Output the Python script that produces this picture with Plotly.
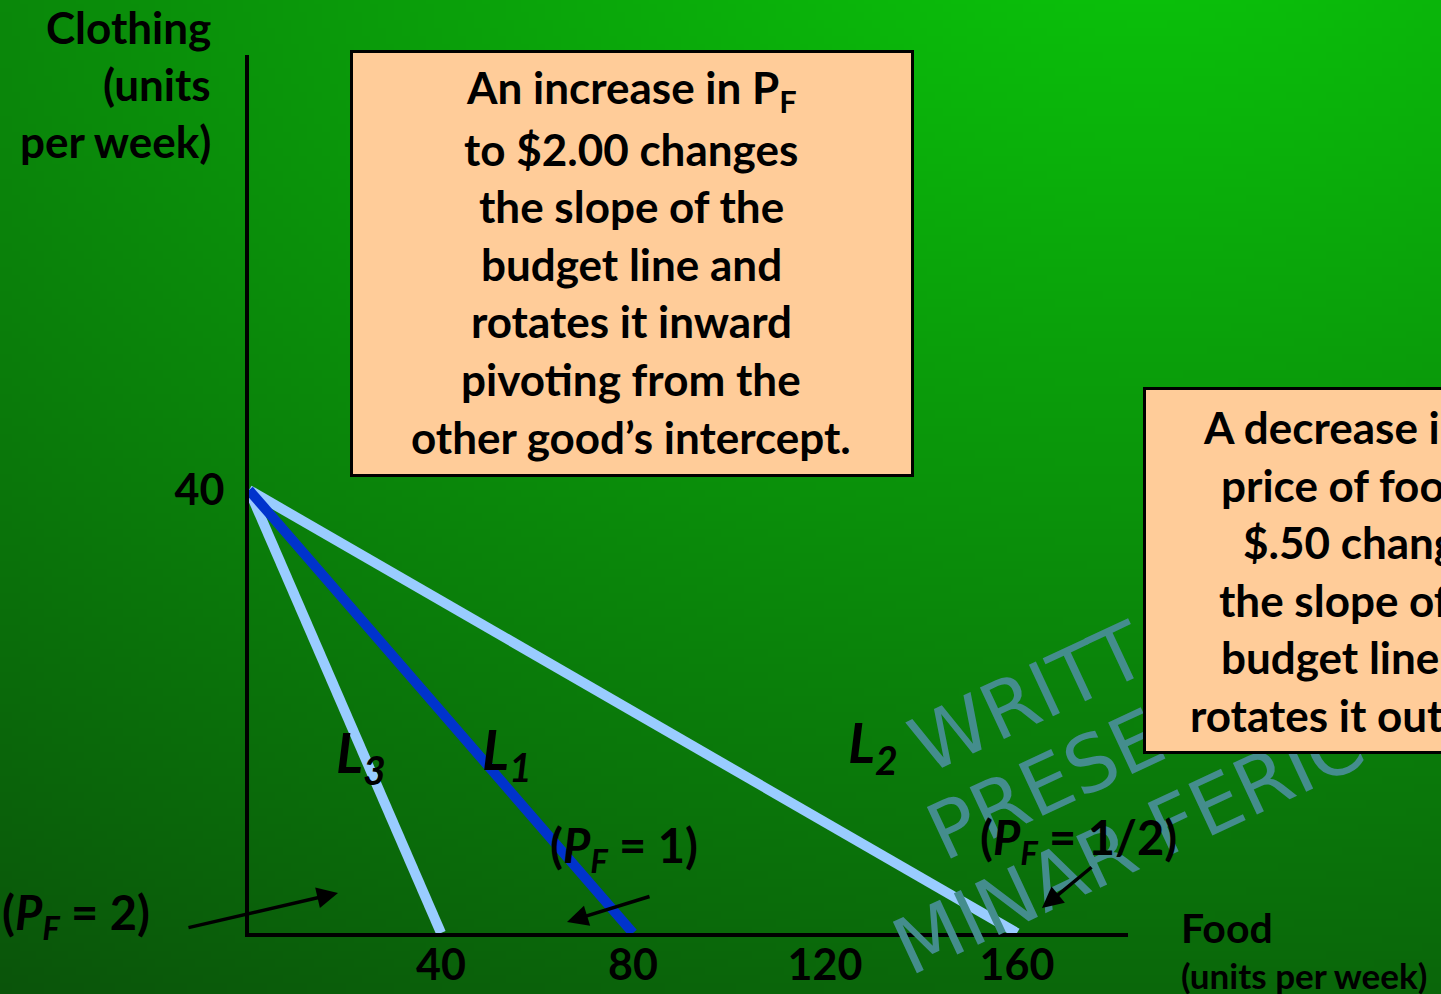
import base64, struct, zlib, math
import plotly.graph_objects as go

# ---------------- data ----------------
clothing_intercept = 40
food_intercepts = [40, 80, 160]          # L3, L1, L2
line_names = ["3", "1", "2"]
line_colors = ["#99CCFF", "#0033CC", "#99CCFF"]
price_labels = ["2", "1", "1/2"]
x_tick_vals = [40, 80, 120, 160]
y_tick_vals = [40]

box1_lines = ["An increase in P<sub>F</sub>", "to $2.00 changes", "the slope of the",
              "budget line and", "rotates it inward", "pivoting from the",
              "other good\u2019s intercept."]
box2_lines = ["A decrease in the", "price of food to", "$.50 changes",
              "the slope of the", "budget line and", "rotates it outward."]
watermark_lines = ["WRITT", "PRESE", "MINAR FERIC"]

# ---------------- geometry helpers (layout pixels -> paper) ----------------
W, H = 1441, 994
L, R, T, B = 249, 1128, 55, 933
PW, PH = R - L, B - T
def px(x): return (x - L) / PW
def py(y): return (B - y) / PH

FONT = "Lato"

# ---------------- background gradient image ----------------
def gradient_png(w, h):
    rows = []
    for j in range(h):
        Y = j * H / (h - 1)
        row = bytearray([0])
        for i in range(w):
            X = i * W / (w - 1)
            d = math.hypot((X - 1150) / 1.6, Y + 100)
            g = max(74, min(200, 200 - 0.088 * d))
            row += bytes([10, int(g), 10])
        rows.append(bytes(row))
    raw = b"".join(rows)
    def chunk(tag, data):
        return struct.pack(">I", len(data)) + tag + data + struct.pack(">I", zlib.crc32(tag + data) & 0xffffffff)
    png = b"\x89PNG\r\n\x1a\n" + chunk(b"IHDR", struct.pack(">IIBBBBB", w, h, 8, 2, 0, 0, 0)) \
          + chunk(b"IDAT", zlib.compress(raw, 9)) + chunk(b"IEND", b"")
    return "data:image/png;base64," + base64.b64encode(png).decode()

fig = go.Figure()

# budget lines
order = [2, 0, 1]
for k in order:
    fig.add_trace(go.Scatter(
        x=[0, food_intercepts[k]], y=[clothing_intercept, 0], mode="lines",
        line=dict(color=line_colors[k], width=10), hoverinfo="skip", showlegend=False))

ann = []
def text(t, x, y, font, xa="center", ya="middle", angle=0):
    ann.append(dict(text=t, x=px(x), y=py(y), xref="paper", yref="paper", showarrow=False,
                    xanchor=xa, yanchor=ya, textangle=angle, font=font))

# watermark
wm_font = dict(family="DejaVu Sans", size=78, color="#448d8d")
wm_pos = [(1028, 698), (1045, 785), (1128, 845)]
for t, (x, y) in zip(watermark_lines, wm_pos):
    text(t, x, y, wm_font, angle=-25)

# box 2 (drawn after watermark so it covers it)
ann.append(dict(text="", x=px(1143), y=py(387), xref="paper", yref="paper", xanchor="left",
                yanchor="top", showarrow=False, width=480, height=361, bgcolor="#FFCC99",
                bordercolor="black", borderwidth=3, borderpad=0))
# box 1
ann.append(dict(text="", x=px(350), y=py(50), xref="paper", yref="paper", xanchor="left",
                yanchor="top", showarrow=False, width=558, height=421, bgcolor="#FFCC99",
                bordercolor="black", borderwidth=3, borderpad=0))

box_font = dict(family=FONT, size=44, color="black", weight="bold")
for i, t in enumerate(box1_lines):
    text(t, 631, 91 + i * 57.6, box_font)
for i, t in enumerate(box2_lines):
    text(t, 1371, 427 + i * 57.6, box_font)

# axis titles
for i, t in enumerate(["Clothing", "(units", "per week)"]):
    text(t, 213, 27 + i * 57, box_font, xa="right")
text("Food", 1179, 927, dict(family=FONT, size=41, color="black", weight="bold"), xa="left")
text("(units per week)", 1179, 975, dict(family=FONT, size=35, color="black", weight="bold"), xa="left")

# line labels
lab_font = dict(family=FONT, size=56, color="black", weight="bold")
lab_pos = [(361, 755), (507, 752), (873, 745)]
for n, (x, y) in zip(line_names, lab_pos):
    text(f"<i>L<sub>{n}</sub></i>", x, y, lab_font)

# price labels
pl_font = dict(family=FONT, size=47, color="black", weight="bold")
pl_pos = [(76, 915), (624, 848), (1078, 840)]
for p, (x, y) in zip(price_labels, pl_pos):
    text(f"(<i>P</i><sub><i>F</i></sub> = {p})", x, y, pl_font)

# arrows (head, tail)
arrows = [((338, 893), (187, 928)), ((567, 922), (651, 896)), ((1042, 908), (1093, 866))]
for (hx, hy), (tx, ty) in arrows:
    ann.append(dict(text="", x=px(hx), y=py(hy), xref="paper", yref="paper", showarrow=True,
                    ax=tx - hx, ay=ty - hy, arrowhead=2, arrowsize=1.2, arrowwidth=3.5,
                    arrowcolor="black"))

tick_font = dict(family=FONT, size=43, color="black", weight="bold")
fig.update_layout(
    width=W, height=H, autosize=False,
    margin=dict(l=L, r=W - R, t=T, b=H - B, pad=0),
    paper_bgcolor="#0a6a0a", plot_bgcolor="rgba(0,0,0,0)",
    showlegend=False,
    xaxis=dict(range=[0, (R - L) / 4.8], showline=True, linecolor="black", linewidth=4,
               showgrid=False, zeroline=False, tickvals=x_tick_vals, ticks="",
               tickfont=tick_font, ticklabelstandoff=-9, automargin=False, fixedrange=True),
    yaxis=dict(range=[0, (B - T) / 11.075], showline=True, linecolor="black", linewidth=4,
               showgrid=False, zeroline=False, tickvals=y_tick_vals, ticks="",
               tickfont=tick_font, ticklabelstandoff=12, automargin=False, fixedrange=True),
    annotations=ann,
    images=[dict(source=gradient_png(181, 125), xref="paper", yref="paper",
                 x=-L / PW, y=B / PH, sizex=W / PW, sizey=H / PH,
                 xanchor="left", yanchor="top", sizing="stretch", layer="below")],
)

fig.write_html("out.html", config={"displayModeBar": False, "staticPlot": True},
               post_script="document.body.style.margin='0';document.body.style.overflow='hidden';")
